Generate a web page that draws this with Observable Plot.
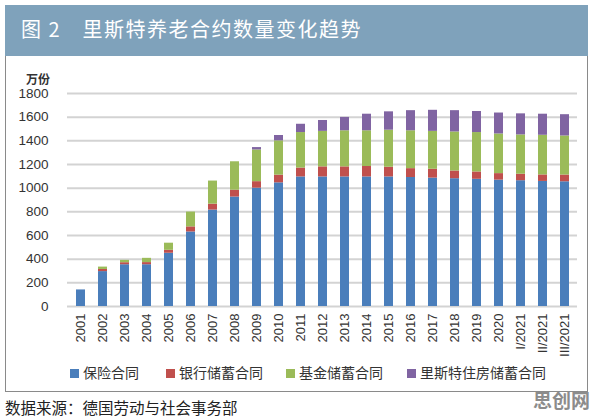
<!DOCTYPE html>
<html>
<head>
<meta charset="utf-8">
<script src="https://cdn.jsdelivr.net/npm/d3@7"></script>
<script src="https://cdn.jsdelivr.net/npm/@observablehq/plot@0.6"></script>
<style>
  html, body { margin: 0; padding: 0; background: #fff; }
  #page { position: relative; width: 596px; height: 418px; overflow: hidden; font-family: "Noto Sans CJK SC", "Liberation Sans", sans-serif; }
  #frame { position: absolute; left: 5px; top: 5px; width: 583px; height: 387px; border: 1px solid #8a8a8a; box-sizing: border-box; }
  #banner { position: absolute; left: 5px; top: 5px; width: 583px; height: 51px; background: #7fa2bb; }
  #title { position: absolute; left: 21px; top: 17px; color: #fff; font-size: 20px; line-height: 24px; letter-spacing: 1.5px; white-space: nowrap; }
  #unit { position: absolute; left: 26px; top: 70px; font-size: 12px; font-weight: bold; color: #333; }
  #chart { position: absolute; left: 0; top: 60px; }
  #legend { position: absolute; top: 363px; left: 0; width: 596px; height: 18px; font-size: 14px; color: #333; }
  .item { position: absolute; top: 0; white-space: nowrap; line-height: 18px; }
  .sw { display: inline-block; width: 9px; height: 9px; margin-right: 4px; vertical-align: 0px; }
  #source { position: absolute; left: 5px; top: 396px; font-size: 15.5px; color: #222; white-space: nowrap; }
  #wm { position: absolute; left: 533px; top: 386px; font-size: 19px; font-weight: bold; color: #8c8c8c; white-space: nowrap; }
</style>
</head>
<body>
<div id="page">
  <div id="frame"></div>
  <div id="banner"></div>
  <div id="title">图 2　里斯特养老合约数量变化趋势</div>
  <div id="unit">万份</div>
  <div id="chart"></div>
  <div id="legend"></div>
  <div id="source">数据来源：德国劳动与社会事务部</div>
  <div id="wm">思创网</div>
</div>
<script>
const years = ["2001","2002","2003","2004","2005","2006","2007","2008","2009","2010","2011","2012","2013","2014","2015","2016","2017","2018","2019","2020","I/2021","II/2021","III/2021"];
const seriesNames = ["保险合同","银行储蓄合同","基金储蓄合同","里斯特住房储蓄合同"];
const seriesColors = ["#4a7ebb","#c0504d","#9bbb59","#8064a2"];
const insurance = [140,295,353,353,450,630,815,925,1000,1045,1095,1095,1095,1095,1095,1090,1085,1080,1075,1068,1063,1057,1054];
const bank      = [0,18,17,18,25,43,50,58,55,65,75,85,85,88,82,75,75,65,62,55,55,55,57];
const fund      = [0,20,20,36,60,125,195,240,268,290,300,300,305,302,313,320,320,330,333,335,332,335,330];
const housing   = [0,0,0,0,0,0,0,0,20,45,70,92,113,140,155,170,178,180,178,177,178,178,180];
const yTicks = [0,200,400,600,800,1000,1200,1400,1600,1800];

const seriesValues = [insurance, bank, fund, housing];
const data = seriesNames.flatMap((s, i) => years.map((y, j) => ({year: y, series: s, value: seriesValues[i][j]})));

const chart = Plot.plot({
  width: 596,
  height: 296,
  marginLeft: 67,
  marginRight: 19,
  marginTop: 33,
  marginBottom: 50,
  style: {fontFamily: "'Liberation Sans', Arial, sans-serif", fontSize: "13px", color: "#333", background: "transparent"},
  x: {domain: years, paddingInner: 0.6, paddingOuter: 0.3, label: null},
  y: {domain: [0, 1800], label: null},
  color: {domain: seriesNames, range: seriesColors},
  marks: [
    Plot.ruleY(yTicks, {stroke: "#d3d3d3", strokeWidth: 2}),
    Plot.barY(data, {x: "year", y: "value", fill: "series"}),
    Plot.axisY({ticks: yTicks, tickFormat: d => String(d), tickSize: 0, tickPadding: 19, label: null, fontSize: 13.5}),
    Plot.axisX({tickRotate: -90, tickSize: 0, tickPadding: 7, label: null, fontSize: 13})
  ]
});
document.getElementById("chart").appendChild(chart);

const legendPos = [70, 166, 286, 407];
const legend = document.getElementById("legend");
seriesNames.forEach((s, i) => {
  const item = document.createElement("div");
  item.className = "item";
  item.style.left = legendPos[i] + "px";
  item.innerHTML = `<span class="sw" style="background:${seriesColors[i]}"></span>${s}`;
  legend.appendChild(item);
});
</script>
</body>
</html>
